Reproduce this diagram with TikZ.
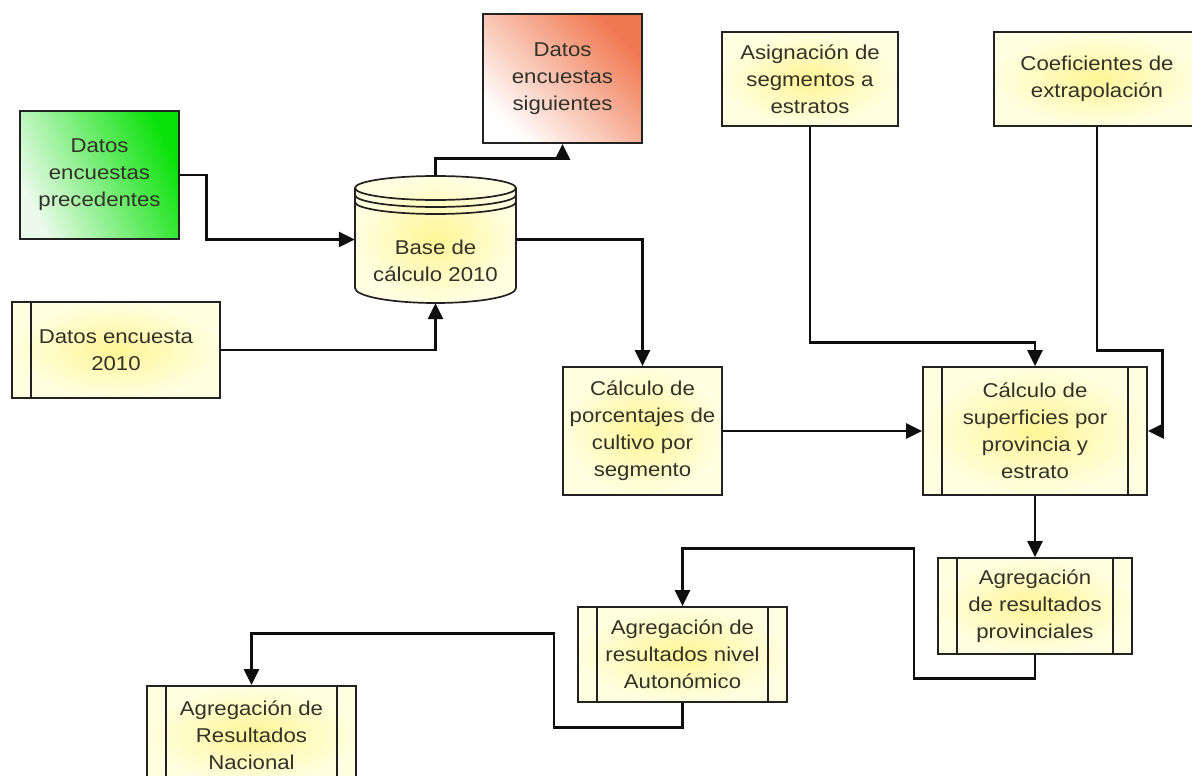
\documentclass[tikz,border=0pt]{standalone}
\usepackage{fontspec}
\setmainfont{Liberation Sans}[FakeStretch=1.11]
\usetikzlibrary{arrows.meta,calc}
\definecolor{bc}{RGB}{34,34,34}
\definecolor{lc}{RGB}{15,15,15}
\definecolor{tc}{RGB}{50,50,40}
\definecolor{yin}{RGB}{255,245,150}
\definecolor{yout}{RGB}{255,255,225}
\definecolor{grn}{RGB}{10,225,10}
\definecolor{grl}{RGB}{235,250,235}
\definecolor{org}{RGB}{240,120,80}
\newcommand\boxfont{\fontsize{20}{27}\selectfont}
\tikzset{
  box/.style 2 args={draw=bc, line width=1.7pt, minimum width=#1, minimum height=#2,
    inner sep=0pt, align=center, font=\boxfont, text=tc},
  ylw/.style={inner color=yin, outer color=yout},
  inl/.style={path picture={\draw[bc, line width=1.7pt]
      ([xshift=19pt]path picture bounding box.north west) --
      ([xshift=19pt]path picture bounding box.south west);}},
  inlr/.style={path picture={\draw[bc, line width=1.7pt]
      ([xshift=19pt]path picture bounding box.north west) --
      ([xshift=19pt]path picture bounding box.south west)
      ([xshift=-19pt]path picture bounding box.north east) --
      ([xshift=-19pt]path picture bounding box.south east);}},
  conn/.style={draw=lc, line width=2.8pt, -{Triangle[length=16pt,width=15pt]}}
}
\begin{document}
\begin{tikzpicture}[x=1pt,y=-1pt]
\useasboundingbox (0,0) rectangle (1192,776);
\fill[white] (0,0) rectangle (1192,776);

% cylinder body
\shade[inner color=yin, outer color=yout]
  (355,188) -- (355,288) arc[start angle=180,end angle=360,x radius=80.5pt,y radius=15pt]
  -- (516,188) arc[start angle=0,end angle=180,x radius=80.5pt,y radius=12pt] -- cycle;
\draw[bc, line width=1.7pt]
  (355,188) -- (355,288) arc[start angle=180,end angle=360,x radius=80.5pt,y radius=15pt]
  -- (516,188);
\draw[bc, line width=1.7pt] (435.5,188) ellipse[x radius=80.5pt, y radius=12pt];
\draw[bc, line width=1.7pt] (355,195) arc[start angle=180,end angle=360,x radius=80.5pt,y radius=12pt];
\draw[bc, line width=1.7pt] (355,202) arc[start angle=180,end angle=360,x radius=80.5pt,y radius=12pt];
\node[minimum width=161, minimum height=127, inner sep=0pt] (base) at (435.5,239.5) {};
\node[align=center, font=\boxfont, text=tc, inner sep=0pt] (basetxt) at (435.5,261) {Base de\\cálculo 2010};

% boxes
\node[box={159}{128}, shading=axis, top color=grl, bottom color=grn, shading angle=115]
  (prec) at (99.5,175) {Datos\\encuestas\\precedentes};
\node[box={159}{129}, shading=axis, top color=white, bottom color=org, shading angle=135]
  (sig) at (562.5,78.5) {Datos\\encuestas\\siguientes};
\node[box={176}{94}, ylw] (asig) at (810,79) {Asignación de\\segmentos a\\estratos};
\node[box={206}{94}, ylw] (coef) at (1097,79) {Coeficientes de\\extrapolación};
\node[box={208}{96}, ylw, inl] (enc) at (116,350) {Datos encuesta\\2010};
\node[box={159}{128}, ylw] (porc) at (642.5,431) {Cálculo de\\porcentajes de\\cultivo por\\segmento};
\node[box={224}{128}, ylw, inlr] (sup) at (1035,431) {Cálculo de\\superficies por\\provincia y\\estrato};
\node[box={194}{96}, ylw, inlr] (prov) at (1035,606) {Agregación\\de resultados\\provinciales};
\node[box={209}{95}, ylw, inlr] (auto) at (682.5,654.5) {Agregación de\\resultados nivel\\Autonómico};
\node[box={209}{98}, ylw, inlr] (nac) at (251.5,735) {Agregación de\\Resultados\\Nacional};

% connectors
\draw[conn] (prec.east) -- ++(27,0) |- (base.west);
\draw[conn] (enc.east) -| (base.south);
\draw[conn] (base.north) -- ++(0,-17) -| (sig.south);
\draw[conn] (base.east) -| (porc.north);
\draw[conn] (porc.east) -- (sup.west);
\draw[conn] (asig.south) |- ($(sup.north)+(0,-24)$) -- (sup.north);
\draw[conn] (coef.south) |- ($(sup.north east)+(15,-16)$) |- (sup.east);
\draw[conn] (sup.south) -- (prov.north);
\draw[conn] (prov.south) -- ++(0,24) -- ++(-121,0) -- ++(0,-130) -| (auto.north);
\draw[conn] (auto.south) -- ++(0,25) -- ++(-128.5,0) -- ++(0,-94) -| (nac.north);
\end{tikzpicture}
\end{document}
